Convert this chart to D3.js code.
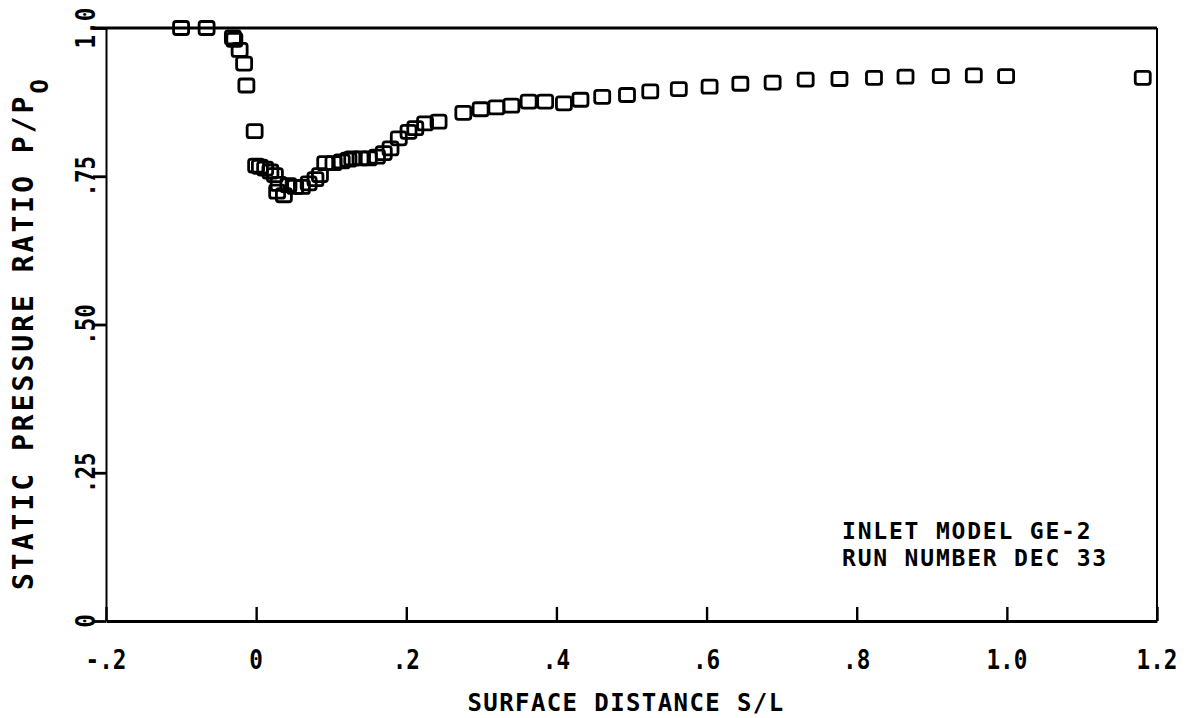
<!DOCTYPE html>
<html><head><meta charset="utf-8">
<script src="https://cdn.jsdelivr.net/npm/d3@7/dist/d3.min.js"></script>
<style>body{margin:0;background:#fff}svg{display:block}</style>
</head><body>
<svg id="c" width="1189" height="718"></svg>
<script>
// Surface distance S/L
const surfaceDistance = [
  -0.100, -0.066, -0.031, -0.029, -0.022, -0.016, -0.013, -0.002,
  0.000, 0.005, 0.012, 0.019, 0.025, 0.030, 0.028, 0.037, 0.043, 0.052, 0.061, 0.070,
  0.079, 0.085, 0.092, 0.103, 0.114, 0.123, 0.128, 0.139, 0.150, 0.161, 0.170, 0.179,
  0.190, 0.203, 0.212, 0.225, 0.243, 0.276, 0.299, 0.320, 0.340, 0.363, 0.385, 0.410,
  0.432, 0.461, 0.494, 0.525, 0.563, 0.604, 0.645, 0.688, 0.732, 0.777, 0.823, 0.865,
  0.912, 0.956, 0.999, 1.181
];
// Static pressure ratio P/Po
const pressureRatio = [
  1.000, 1.000, 0.984, 0.980, 0.963, 0.940, 0.903, 0.826,
  0.768, 0.766, 0.763, 0.758, 0.752, 0.737, 0.724, 0.718, 0.735, 0.732, 0.732, 0.738,
  0.745, 0.752, 0.772, 0.772, 0.775, 0.778, 0.780, 0.780, 0.780, 0.783, 0.789, 0.797,
  0.814, 0.825, 0.831, 0.839, 0.842, 0.857, 0.863, 0.866, 0.869, 0.876, 0.876, 0.873,
  0.879, 0.884, 0.887, 0.893, 0.897, 0.901, 0.906, 0.908, 0.913, 0.914, 0.916, 0.918,
  0.919, 0.920, 0.919, 0.916
];
const xTicks = [-0.2, 0, 0.2, 0.4, 0.6, 0.8, 1.0, 1.2];
const xTickLabels = ["-.2", "0", ".2", ".4", ".6", ".8", "1.0", "1.2"];
const yTicks = [0, 0.25, 0.5, 0.75, 1.0];
const yTickLabels = ["0", ".25", ".50", ".75", "1.0"];
const xTitle = "SURFACE DISTANCE S/L";
const yTitle = "STATIC PRESSURE RATIO P/P";
const yTitleSub = "O";
const notes = ["INLET MODEL GE-2", "RUN NUMBER DEC 33"];

const FONT = "'DejaVu Sans Mono', 'Liberation Mono', monospace";
const svg = d3.select("#c");
const x = d3.scaleLinear().domain([-0.2, 1.2]).range([106, 1157]);
const y = d3.scaleLinear().domain([0, 1]).range([621, 28]);

// frame
const g = svg.append("g").attr("fill", "none").attr("stroke", "#000");
g.append("line").attr("x1", x(-0.2) - 11).attr("x2", x(1.2)).attr("y1", y(1)).attr("y2", y(1)).attr("stroke-width", 3);
g.append("line").attr("x1", x(1.2)).attr("x2", x(1.2)).attr("y1", y(1)).attr("y2", y(0)).attr("stroke-width", 2);

// x axis (ticks inward)
const xAxis = d3.axisTop(x).tickValues(xTicks).tickSize(14).tickFormat("").tickSizeOuter(0);
const xa = svg.append("g").attr("transform", `translate(0,${y(0)})`).call(xAxis);
xa.select(".domain").attr("stroke-width", 3);
xa.selectAll(".tick line").attr("stroke-width", 2.4);

// y axis (ticks outward)
const yAxis = d3.axisLeft(y).tickValues(yTicks).tickSize(13).tickFormat("").tickSizeOuter(0);
const ya = svg.append("g").attr("transform", `translate(${x(-0.2)},0)`).call(yAxis);
ya.select(".domain").attr("stroke-width", 2);
ya.selectAll(".tick line").attr("stroke-width", 2.8);

// x tick labels
svg.append("g").selectAll("text").data(xTicks).join("text")
  .attr("transform", d => `translate(${x(d)},669) scale(0.84,1)`)
  .attr("text-anchor", "middle")
  .style("font-family", FONT).style("font-size", "27px").style("font-weight", "bold").attr("fill", "#000")
  .text((d, i) => xTickLabels[i]);

// y tick labels (rotated)
svg.append("g").selectAll("text").data(yTicks).join("text")
  .attr("transform", d => `translate(95,${y(d)}) rotate(-90) scale(0.84,1)`)
  .attr("text-anchor", "middle")
  .style("font-family", FONT).style("font-size", "27px").style("font-weight", "bold").attr("fill", "#000")
  .text((d, i) => yTickLabels[i]);

// x title
svg.append("text").attr("x", 626).attr("y", 711).attr("text-anchor", "middle")
  .style("font-family", FONT).style("font-size", "24px").style("letter-spacing", "1.4px")
  .style("font-weight", "bold").attr("fill", "#000").text(xTitle);

// y title
const yt = svg.append("text").attr("transform", "translate(33,590) rotate(-90)")
  .style("font-family", FONT).style("font-size", "28px").style("letter-spacing", "3px")
  .style("font-weight", "bold").attr("fill", "#000");
yt.append("tspan").text(yTitle);
yt.append("tspan").attr("dy", 15).style("font-size", "24px").text(yTitleSub);

// annotation
svg.append("g").selectAll("text").data(notes).join("text")
  .attr("x", 842).attr("y", (d, i) => 539 + i * 27)
  .style("font-family", FONT).style("font-size", "23px").style("letter-spacing", "1.8px")
  .style("font-weight", "bold").attr("fill", "#000").text(d => d);

// markers
const pts = surfaceDistance.map((s, i) => ({ s, p: pressureRatio[i] }));
svg.append("g").selectAll("rect").data(pts).join("rect")
  .attr("x", d => x(d.s) - 7.5).attr("y", d => y(d.p) - 6.5)
  .attr("width", 15).attr("height", 13).attr("rx", 2.5)
  .attr("fill", "none").attr("stroke", "#000").attr("stroke-width", 2.8);
</script>
</body></html>
